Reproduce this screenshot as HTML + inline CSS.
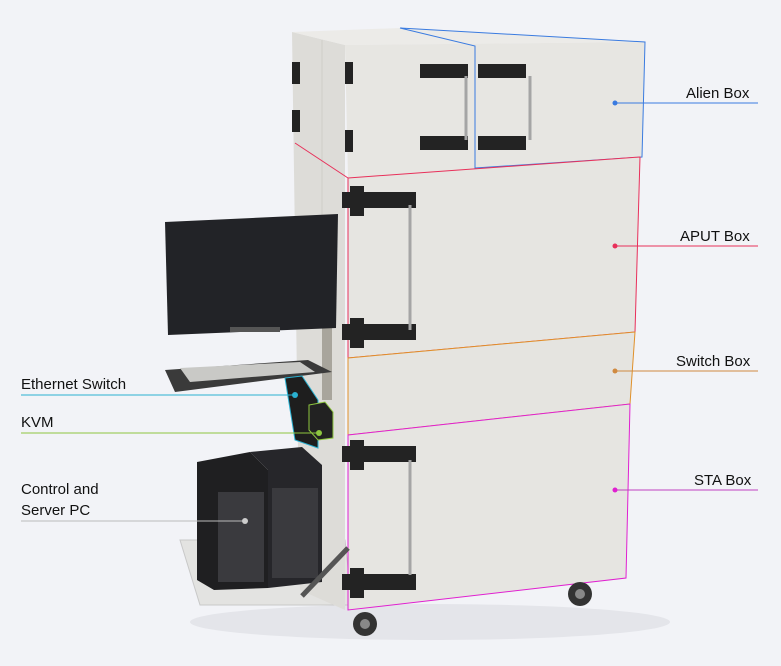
<!DOCTYPE html>
<html><head><style>
body{margin:0;width:781px;height:666px;overflow:hidden;background:#f2f3f7;font-family:"Liberation Sans",sans-serif;}
svg{display:block}
text{font-family:"Liberation Sans",sans-serif;font-size:15px;fill:#111}
</style></head><body>
<svg width="781" height="666" viewBox="0 0 781 666">
<rect width="781" height="666" fill="#f2f3f7"/>
<ellipse cx="430" cy="622" rx="240" ry="18" fill="#e4e5ea"/>
<polygon points="180,540 345,540 352,605 200,605" fill="#e3e3e1" stroke="#c8c8c8"/>
<polygon points="292,32 345,45 345,610 300,590" fill="#dddcd8"/>
<line x1="322" y1="40" x2="322" y2="320" stroke="#cfcec9"/>
<polygon points="292,32 400,28 645,42 345,45" fill="#ecebe8"/>
<polygon points="345,45 645,42 642,157 348,178" fill="#e7e6e2"/>
<polygon points="400,28 645,42 642,157 475,168 475,46" fill="none" stroke="#3a7be0" stroke-width="1"/>
<line x1="475" y1="46" x2="475" y2="168" stroke="#3a7be0"/>
<polygon points="348,178 640,157 635,332 348,358" fill="#e6e5e1" stroke="#e8305a" stroke-width="1"/>
<line x1="295" y1="143" x2="348" y2="178" stroke="#e8305a"/>
<polygon points="348,358 635,332 630,404 348,435" fill="#e5e4e0" stroke="#e0902a" stroke-width="1"/>
<polygon points="348,435 630,404 626,578 348,610" fill="#e6e5e1" stroke="#e020d0" stroke-width="1"/>
<g fill="#232323">
<rect x="420" y="64" width="48" height="14"/><rect x="478" y="64" width="48" height="14"/>
<rect x="420" y="136" width="48" height="14"/><rect x="478" y="136" width="48" height="14"/>
<rect x="342" y="192" width="74" height="16"/><rect x="350" y="186" width="14" height="30"/>
<rect x="342" y="324" width="74" height="16"/><rect x="350" y="318" width="14" height="30"/>
<rect x="342" y="446" width="74" height="16"/><rect x="350" y="440" width="14" height="30"/>
<rect x="342" y="574" width="74" height="16"/><rect x="350" y="568" width="14" height="30"/>
<rect x="292" y="62" width="8" height="22"/><rect x="292" y="110" width="8" height="22"/>
<rect x="345" y="62" width="8" height="22"/><rect x="345" y="130" width="8" height="22"/>
</g>
<g stroke="#a5a5a5" stroke-width="3" fill="none">
<line x1="466" y1="76" x2="466" y2="140"/><line x1="530" y1="76" x2="530" y2="140"/>
<line x1="410" y1="205" x2="410" y2="330"/><line x1="410" y1="460" x2="410" y2="575"/>
</g>
<rect x="322" y="300" width="10" height="100" fill="#a8a59c"/>
<polygon points="165,222 338,214 336,328 168,335" fill="#222327"/>
<rect x="230" y="327" width="50" height="5" fill="#555"/>
<polygon points="165,370 308,360 332,372 175,392" fill="#3a3a3a"/>
<polygon points="180,368 300,362 315,372 190,382" fill="#c9c9c6"/>
<polygon points="285,378 302,376 318,400 318,448 295,440" fill="#1e1e1e" stroke="#2ab0d0"/>
<polygon points="309,405 325,402 333,412 333,438 318,440 309,430" fill="#222" stroke="#8dc63f"/>
<polygon points="197,462 250,452 268,470 268,588 214,590 197,580" fill="#1f1f21"/>
<polygon points="250,452 302,447 322,465 322,582 268,588 268,470" fill="#26262a"/>
<rect x="218" y="492" width="46" height="90" fill="#3a3a3e"/>
<rect x="272" y="488" width="46" height="90" fill="#3a3a3e"/>
<circle cx="365" cy="624" r="12" fill="#333"/><circle cx="580" cy="594" r="12" fill="#333"/>
<circle cx="365" cy="624" r="5" fill="#888"/><circle cx="580" cy="594" r="5" fill="#888"/>
<line x1="302" y1="596" x2="348" y2="548" stroke="#555" stroke-width="5"/>
<line x1="615" y1="103" x2="758" y2="103" stroke="#3a7be0"/><circle cx="615" cy="103" r="2.5" fill="#3a7be0"/>
<line x1="615" y1="246" x2="758" y2="246" stroke="#e8305a"/><circle cx="615" cy="246" r="2.5" fill="#e8305a"/>
<line x1="615" y1="371" x2="758" y2="371" stroke="#d08a40"/><circle cx="615" cy="371" r="2.5" fill="#d08a40"/>
<line x1="615" y1="490" x2="758" y2="490" stroke="#c040c0"/><circle cx="615" cy="490" r="2.5" fill="#e020d0"/>
<line x1="21" y1="395" x2="295" y2="395" stroke="#2ab0d0"/><circle cx="295" cy="395" r="3" fill="#2ab0d0"/>
<line x1="21" y1="433" x2="319" y2="433" stroke="#8dc63f"/><circle cx="319" cy="433" r="3" fill="#8dc63f"/>
<line x1="21" y1="521" x2="245" y2="521" stroke="#bbb"/><circle cx="245" cy="521" r="3" fill="#ccc"/>
<text x="686" y="98">Alien Box</text>
<text x="680" y="241">APUT Box</text>
<text x="676" y="366">Switch Box</text>
<text x="694" y="485">STA Box</text>
<text x="21" y="389">Ethernet Switch</text>
<text x="21" y="427">KVM</text>
<text x="21" y="494">Control and</text>
<text x="21" y="515">Server PC</text>
</svg>
</body></html>
